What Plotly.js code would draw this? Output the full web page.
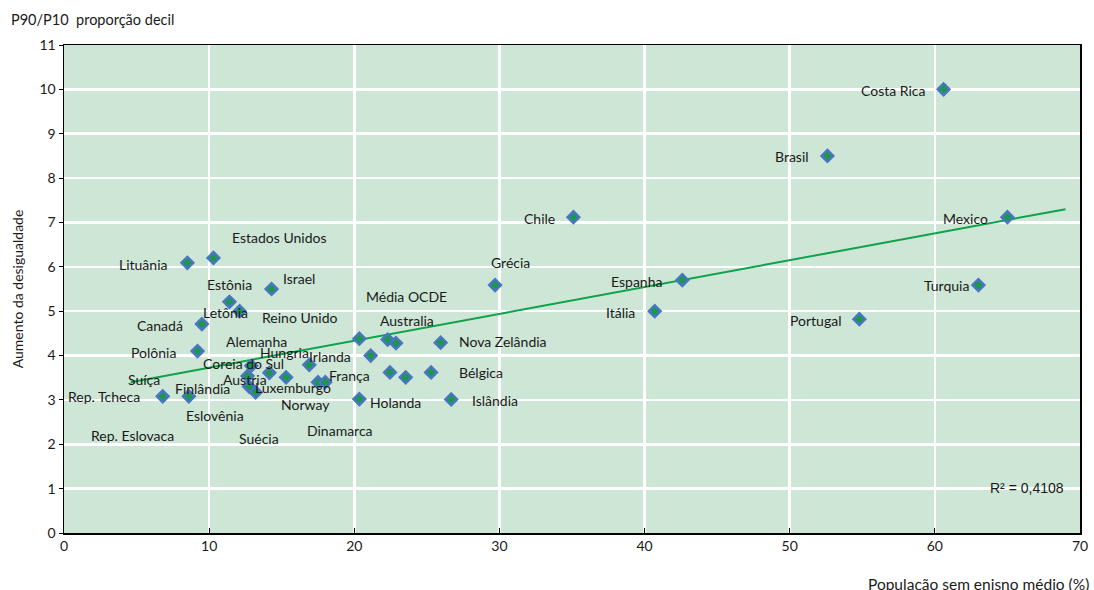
<!DOCTYPE html>
<html>
<head>
<meta charset="utf-8">
<script src="https://cdn.plot.ly/plotly-3.0.1.min.js"></script>
<style>html,body{margin:0;padding:0;background:#fff;}#chart{width:1094px;height:590px;}</style>
</head>
<body>
<div id="chart"></div>
<script>
// Points
const pointX = [60.6, 52.6, 35.1, 65.0, 29.7, 42.6, 63.0, 40.7, 54.8,
  8.5, 10.3, 14.3, 11.4, 12.1, 9.5, 9.2, 6.8, 8.6,
  12.9, 14.15, 15.3, 16.9, 12.65, 12.75, 13.2, 17.5, 18.0,
  20.35, 20.35, 22.3, 22.87, 25.95, 21.13, 22.46, 23.54, 25.29, 26.68];
const pointY = [10.0, 8.5, 7.12, 7.12, 5.59, 5.70, 5.59, 5.0, 4.82,
  6.09, 6.2, 5.5, 5.21, 5.0, 4.71, 4.1, 3.08, 3.08,
  3.77, 3.61, 3.51, 3.79, 3.54, 3.30, 3.17, 3.40, 3.40,
  4.38, 3.02, 4.36, 4.28, 4.29, 4.0, 3.62, 3.51, 3.62, 3.01];

// Country labels as placed in the chart
const labelText = ["Costa Rica","Brasil","Chile","Mexico","Grécia","Espanha","Turquia","Itália","Portugal",
  "Lituânia","Estados Unidos","Israel","Estônia","Letônia","Canadá","Polônia","Suíça","Rep. Tcheca",
  "Finlândia","Eslovênia","Rep. Eslovaca","Suécia","Reino Unido","Alemanha","Hungria","Coreia do Sul",
  "Austria","Luxemburgo","Irlanda","França","Norway","Dinamarca","Média OCDE","Australia",
  "Nova Zelândia","Bélgica","Holanda","Islândia"];
const labelX = [57.12, 50.16, 32.73, 62.08, 30.73, 39.41, 60.77, 38.31, 51.81,
  5.51, 14.88, 16.19, 11.37, 11.16, 6.61, 6.20, 5.51, 2.76,
  9.51, 10.40, 4.75, 13.44, 16.26, 13.23, 15.16, 12.40,
  12.47, 15.78, 18.33, 19.64, 16.67, 19.02, 23.63, 23.63,
  30.25, 28.73, 22.87, 29.70];
const labelY = [9.97, 8.48, 7.10, 7.10, 6.09, 5.66, 5.57, 4.98, 4.78,
  6.06, 6.65, 5.73, 5.61, 4.96, 4.67, 4.06, 3.45, 3.07,
  3.25, 2.64, 2.19, 2.14, 4.85, 4.31, 4.08, 3.81,
  3.47, 3.27, 3.97, 3.54, 2.89, 2.30, 5.32, 4.78,
  4.31, 3.61, 2.95, 2.98];

// Linear trend (endpoints)
const trendX = [4.6, 69.0];
const trendY = [3.40, 7.30];
const r2Text = "R² = 0,4108";

const xTicks = [0, 10, 20, 30, 40, 50, 60, 70];
const yTicks = [0, 1, 2, 3, 4, 5, 6, 7, 8, 9, 10, 11];

const FONT = "Lato, 'Open Sans', sans-serif";
const TXT = "#1a1a1a";

const traces = [
  {x: trendX, y: trendY, type: "scatter", mode: "lines",
   line: {color: "#0ea24a", width: 2}, hoverinfo: "skip"},
  {x: pointX, y: pointY, type: "scatter", mode: "markers",
   marker: {symbol: "diamond", size: 9, color: "#1a9a46", line: {color: "#4a74c4", width: 2.5}}}
];

const L = 64, R = 14, T = 45, B = 57, W = 1094, H = 590;
const pw = W - L - R, ph = H - T - B;

const annotations = labelText.map((t, i) => ({
  x: labelX[i], y: labelY[i], xref: "x", yref: "y", text: t, showarrow: false,
  font: {family: FONT, size: 14, color: TXT}, xanchor: "center", yanchor: "middle"
}));
annotations.push({x: (1066 - L) / pw, y: (H - B - 488) / ph, xref: "paper", yref: "paper",
  text: r2Text, showarrow: false,
  font: {family: "'Liberation Sans Narrow', 'Liberation Sans', sans-serif", size: 14, color: TXT},
  xanchor: "right", yanchor: "middle"});
annotations.push({x: (9 - L) / pw, y: (H - B - 20) / ph, xref: "paper", yref: "paper",
  text: "P90/P10  proporção decil", showarrow: false, xanchor: "left", yanchor: "middle",
  font: {family: FONT, size: 14.5, color: TXT}});
annotations.push({x: (1091 - L) / pw, y: (H - B - 584) / ph, xref: "paper", yref: "paper",
  text: "População sem enisno médio (%)", showarrow: false, xanchor: "right", yanchor: "middle",
  font: {family: FONT, size: 15.5, color: TXT}});

const layout = {
  width: W, height: H,
  margin: {l: L, r: R, t: T, b: B},
  paper_bgcolor: "#ffffff",
  plot_bgcolor: "#cde6d5",
  showlegend: false,
  xaxis: {range: [0, 70], tickvals: xTicks, ticktext: xTicks.map(String),
    showgrid: true, gridcolor: "#ffffff", gridwidth: 2.5, zeroline: false,
    showline: true, linecolor: "#000", linewidth: 1.5, mirror: true,
    ticks: "inside", ticklen: 5, tickcolor: "#000",
    tickfont: {family: FONT, size: 14, color: TXT}},
  yaxis: {range: [0, 11], tickvals: yTicks, ticktext: yTicks.map(String),
    showgrid: true, gridcolor: "#ffffff", gridwidth: 2.5, zeroline: false,
    showline: true, linecolor: "#000", linewidth: 1.5, mirror: true,
    ticks: "outside", ticklen: 4, tickcolor: "#000",
    tickfont: {family: FONT, size: 14, color: TXT},
    title: {text: "Aumento da desigualdade", standoff: 12,
      font: {family: FONT, size: 14, color: TXT}}},
  annotations: annotations
};

Plotly.newPlot("chart", traces, layout, {displayModeBar: false, staticPlot: true});
</script>
</body>
</html>
